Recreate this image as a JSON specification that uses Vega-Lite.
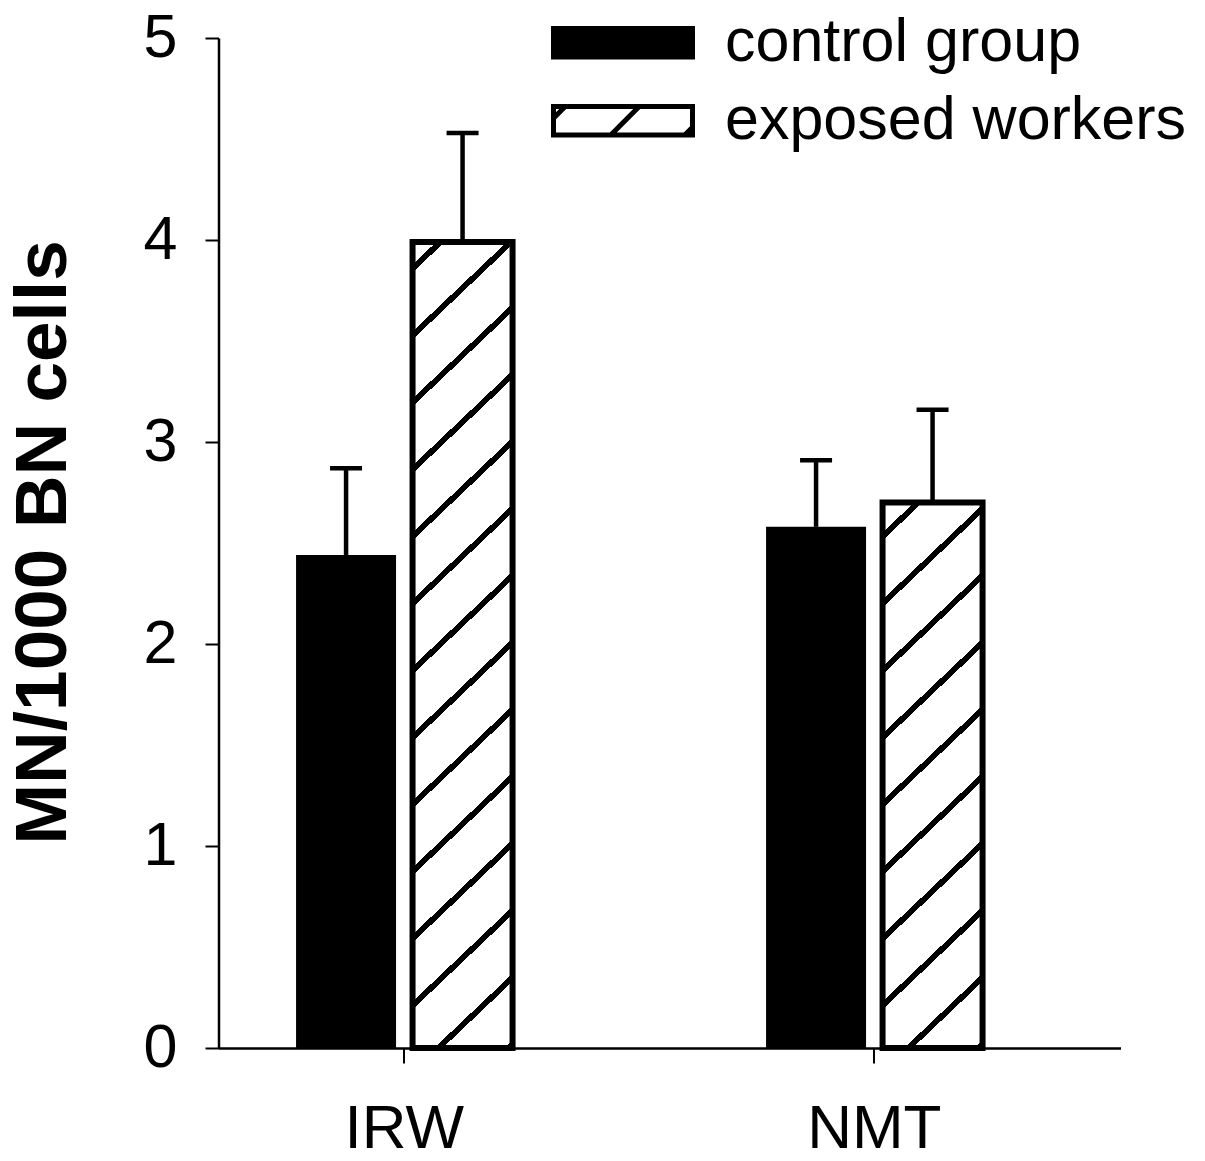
{
  "$schema": "https://vega.github.io/schema/vega-lite/v6.json",
  "width": 902,
  "height": 1010,
  "autosize": "none",
  "padding": {"left": 218.5, "top": 38, "right": 84.5, "bottom": 113},
  "background": "white",
  "config": {
    "font": "Liberation Sans",
    "view": {"stroke": null},
    "axis": {"grid": false, "domainColor": "black", "tickColor": "black", "labelColor": "black", "titleColor": "black", "labelFont": "Liberation Sans", "titleFont": "Liberation Sans"}
  },
  "data": {
    "values": [
      {"group": "IRW", "series": "control group", "mean": 2.44, "upper": 2.87},
      {"group": "IRW", "series": "exposed workers", "mean": 3.99, "upper": 4.53},
      {"group": "NMT", "series": "control group", "mean": 2.58, "upper": 2.91},
      {"group": "NMT", "series": "exposed workers", "mean": 2.70, "upper": 3.16}
    ]
  },
  "encoding": {
    "x": {
      "field": "group", "type": "nominal", "title": null,
      "scale": {"paddingInner": 0.539362, "paddingOuter": 0.229255, "align": 0.3599},
      "axis": {"labelAngle": 0, "labelFontSize": 62, "labelPadding": 35, "tickSize": 15, "tickWidth": 2, "domainWidth": 2.5, "labelBaseline": "top"}
    },
    "xOffset": {
      "field": "series", "type": "nominal",
      "scale": {"paddingInner": 0.141631, "paddingOuter": 0}
    }
  },
  "layer": [
    {
      "mark": {"type": "bar"},
      "encoding": {
        "y": {
          "field": "mean", "type": "quantitative",
          "title": "MN/1000 BN cells",
          "scale": {"domain": [0, 5], "nice": false},
          "axis": {
            "values": [0, 1, 2, 3, 4, 5], "format": "d",
            "labelFontSize": 61, "labelPadding": 28, "tickSize": 13.5, "tickWidth": 2, "domainWidth": 2.5,
            "titleFontSize": 73, "titleFontWeight": "bold", "titleAngle": 270, "titleBaseline": "alphabetic", "titleAlign": "center",
            "titleX": -152.8, "titleY": 504
          }
        },
        "fill": {
          "field": "series", "type": "nominal",
          "scale": {"domain": ["control group", "exposed workers"], "range": ["black", "white"]},
          "legend": {
            "title": null, "orient": "none", "legendX": 332.5, "legendY": -25.2, "padding": 0,
            "labelFontSize": 61, "labelFont": "Liberation Sans", "labelColor": "black", "labelLimit": 800,
            "labelOffset": 30, "rowPadding": 17, "clipHeight": 60,
            "symbolType": "M-1,-0.2043H1V0.2043H-1Z M-1,-0.036L-0.8317,-0.2043 M-0.1755,0.2043L0.2331,-0.2043 M0.8892,0.2043L1,0.0935",
            "symbolSize": 19321, "symbolStrokeColor": "black", "symbolStrokeWidth": 5, "symbolOpacity": 1
          }
        }
      }
    },
    {
      "transform": [{"filter": "datum.series === 'exposed workers'"}],
      "mark": {"type": "bar", "stroke": "black", "strokeWidth": 6},
      "encoding": {
        "y": {"field": "mean", "type": "quantitative"},
        "fill": {
          "condition": {
            "test": "datum.group === 'IRW'",
            "value": {
              "gradient": "linear", "x1": 0, "y1": 0, "x2": 0.12995, "y2": 1.10255,
              "stops": [
                {"offset": 0, "color": "white"},
                {"offset": 0.02497, "color": "white"}, {"offset": 0.02497, "color": "black"}, {"offset": 0.03385, "color": "black"}, {"offset": 0.03385, "color": "white"},
                {"offset": 0.09933, "color": "white"}, {"offset": 0.09933, "color": "black"}, {"offset": 0.10821, "color": "black"}, {"offset": 0.10821, "color": "white"},
                {"offset": 0.17370, "color": "white"}, {"offset": 0.17370, "color": "black"}, {"offset": 0.18258, "color": "black"}, {"offset": 0.18258, "color": "white"},
                {"offset": 0.24806, "color": "white"}, {"offset": 0.24806, "color": "black"}, {"offset": 0.25694, "color": "black"}, {"offset": 0.25694, "color": "white"},
                {"offset": 0.32242, "color": "white"}, {"offset": 0.32242, "color": "black"}, {"offset": 0.33130, "color": "black"}, {"offset": 0.33130, "color": "white"},
                {"offset": 0.39678, "color": "white"}, {"offset": 0.39678, "color": "black"}, {"offset": 0.40566, "color": "black"}, {"offset": 0.40566, "color": "white"},
                {"offset": 0.47114, "color": "white"}, {"offset": 0.47114, "color": "black"}, {"offset": 0.48002, "color": "black"}, {"offset": 0.48002, "color": "white"},
                {"offset": 0.54551, "color": "white"}, {"offset": 0.54551, "color": "black"}, {"offset": 0.55438, "color": "black"}, {"offset": 0.55438, "color": "white"},
                {"offset": 0.61987, "color": "white"}, {"offset": 0.61987, "color": "black"}, {"offset": 0.62875, "color": "black"}, {"offset": 0.62875, "color": "white"},
                {"offset": 0.69423, "color": "white"}, {"offset": 0.69423, "color": "black"}, {"offset": 0.70311, "color": "black"}, {"offset": 0.70311, "color": "white"},
                {"offset": 0.76859, "color": "white"}, {"offset": 0.76859, "color": "black"}, {"offset": 0.77747, "color": "black"}, {"offset": 0.77747, "color": "white"},
                {"offset": 0.84295, "color": "white"}, {"offset": 0.84295, "color": "black"}, {"offset": 0.85183, "color": "black"}, {"offset": 0.85183, "color": "white"},
                {"offset": 0.91731, "color": "white"}, {"offset": 0.91731, "color": "black"}, {"offset": 0.92619, "color": "black"}, {"offset": 0.92619, "color": "white"},
                {"offset": 0.99168, "color": "white"}, {"offset": 0.99168, "color": "black"}, {"offset": 1, "color": "black"}
              ]
            }
          },
          "value": {
            "gradient": "linear", "x1": 0, "y1": 0, "x2": 0.19850, "y2": 1.13961,
            "stops": [
              {"offset": 0, "color": "white"},
              {"offset": 0.04669, "color": "white"}, {"offset": 0.04669, "color": "black"}, {"offset": 0.05918, "color": "black"}, {"offset": 0.05918, "color": "white"},
              {"offset": 0.15131, "color": "white"}, {"offset": 0.15131, "color": "black"}, {"offset": 0.16380, "color": "black"}, {"offset": 0.16380, "color": "white"},
              {"offset": 0.25593, "color": "white"}, {"offset": 0.25593, "color": "black"}, {"offset": 0.26843, "color": "black"}, {"offset": 0.26843, "color": "white"},
              {"offset": 0.36056, "color": "white"}, {"offset": 0.36056, "color": "black"}, {"offset": 0.37305, "color": "black"}, {"offset": 0.37305, "color": "white"},
              {"offset": 0.46518, "color": "white"}, {"offset": 0.46518, "color": "black"}, {"offset": 0.47767, "color": "black"}, {"offset": 0.47767, "color": "white"},
              {"offset": 0.56980, "color": "white"}, {"offset": 0.56980, "color": "black"}, {"offset": 0.58229, "color": "black"}, {"offset": 0.58229, "color": "white"},
              {"offset": 0.67442, "color": "white"}, {"offset": 0.67442, "color": "black"}, {"offset": 0.68691, "color": "black"}, {"offset": 0.68691, "color": "white"},
              {"offset": 0.77904, "color": "white"}, {"offset": 0.77904, "color": "black"}, {"offset": 0.79154, "color": "black"}, {"offset": 0.79154, "color": "white"},
              {"offset": 0.88366, "color": "white"}, {"offset": 0.88366, "color": "black"}, {"offset": 0.89616, "color": "black"}, {"offset": 0.89616, "color": "white"},
              {"offset": 0.98829, "color": "white"}, {"offset": 0.98829, "color": "black"}, {"offset": 1, "color": "black"}
            ]
          }
        }
      }
    },
    {
      "mark": {"type": "rule", "color": "black", "strokeWidth": 4.5},
      "encoding": {
        "y": {"field": "mean", "type": "quantitative"},
        "y2": {"field": "upper"}
      }
    },
    {
      "mark": {"type": "tick", "color": "black", "size": 32, "thickness": 4.5, "opacity": 1},
      "encoding": {
        "y": {"field": "upper", "type": "quantitative"}
      }
    }
  ]
}
